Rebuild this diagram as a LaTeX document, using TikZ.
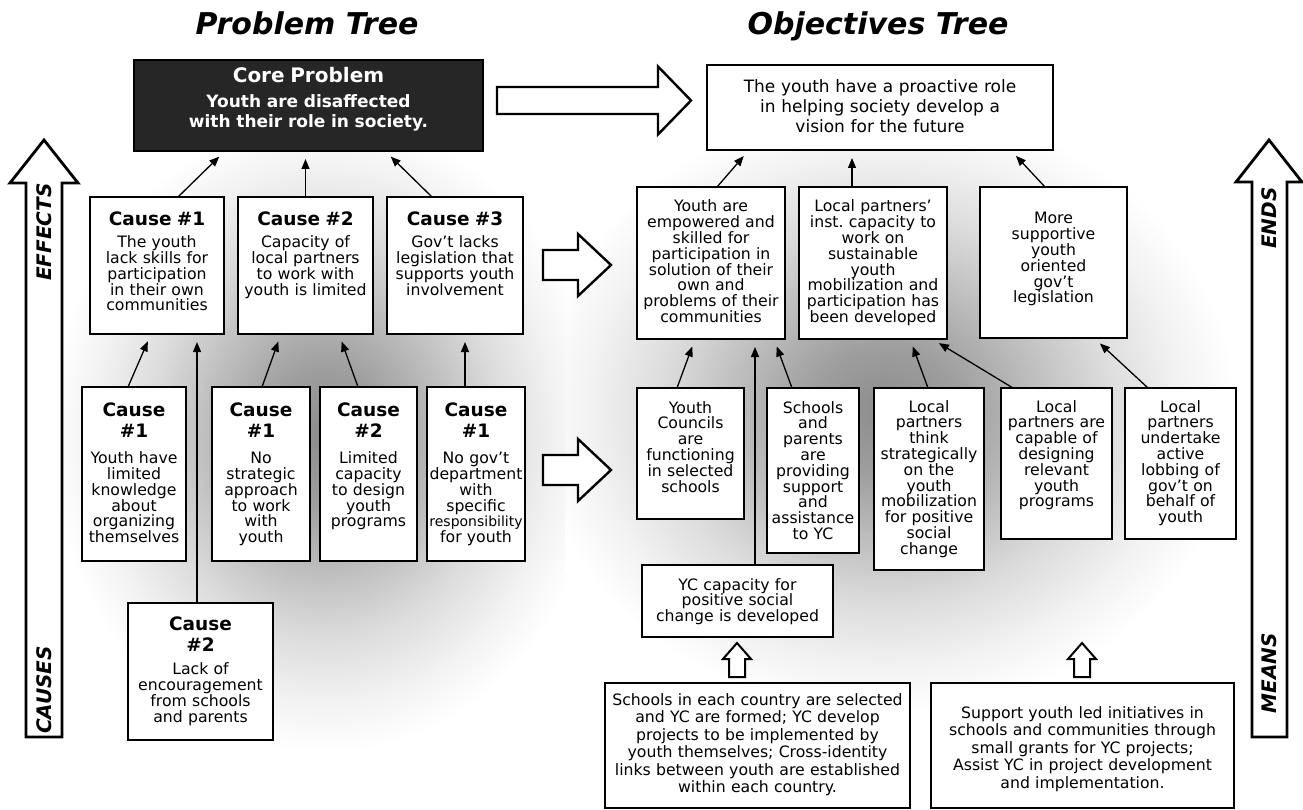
\documentclass[tikz,border=0pt]{standalone}
\usepackage{fontspec}
\setmainfont{DejaVu Sans}
\usetikzlibrary{arrows.meta}
\setlength{\lineskiplimit}{-20pt}
\newcommand\txt{\fontsize{15.7}{15.8}\selectfont}
\newcommand\hd{\bfseries\fontsize{18.5}{22}\selectfont}
\newcommand\ttl{\bfseries\itshape\fontsize{30}{36}\selectfont}
\pgfdeclareradialshading{glow}{\pgfpoint{0bp}{0bp}}{color(0bp)=(black!45); color(5bp)=(black!38); color(10bp)=(black!26); color(15bp)=(black!14); color(20bp)=(black!5); color(23.75bp)=(white); color(50bp)=(white)}

\begin{document}
\begin{tikzpicture}[x=1pt, y=-1pt,
  box/.style={draw, line width=2.7pt, fill=white, align=center, inner xsep=1pt, inner ysep=0pt, outer sep=0pt, font=\txt},
  hb/.style 2 args={text height=#1pt, text depth={#2-#1}},
  conn/.style={-{Triangle[length=10pt,width=8pt]}, line width=1.3pt, shorten >=8pt},
  hollow/.style={draw, line width=2.4pt, fill=white},
  side/.style={font=\bfseries\itshape\fontsize{20}{24}\selectfont, rotate=90}]
\useasboundingbox (0,0) rectangle (1303,810);
\fill[white] (0,0) rectangle (1303,810);

% gray glow behind both trees
\shade[shading=glow] (325,435) ellipse [x radius=290, y radius=335];
\begin{scope}
  \clip (565,0) rectangle (1303,810);
  \shade[shading=glow] (885,410) ellipse [x radius=370, y radius=320];
\end{scope}

% titles
\node[font=\ttl, anchor=base] (ptitle) at (307,35) {Problem Tree};
\node[font=\ttl, anchor=base] (otitle) at (878,35) {Objectives Tree};

% side arrows
\draw[hollow, line width=2.8pt] (26,737) -- (26,183) -- (10,183) -- (44,140) -- (78,183) -- (62,183) -- (62,737) -- cycle;
\draw[hollow, line width=2.8pt] (1252,737) -- (1252,182) -- (1236,182) -- (1269,140) -- (1302,182) -- (1287,182) -- (1287,737) -- cycle;
\node[side] (effects) at (44,232) {EFFECTS};
\node[side] (causes) at (44,690) {CAUSES};
\node[side] (ends) at (1269.5,218) {ENDS};
\node[side] (means) at (1269.5,673) {MEANS};

% problem tree
\node[box, fill=black!85, text=white, font=\bfseries\fontsize{17}{20}\selectfont, text width=347pt, hb={23}{91}, anchor=north] (core) at (308.5,60)
  {{\fontsize{20}{25}\selectfont Core Problem}\\[5pt] Youth are disaffected\\ with their role in society.};

\node[box, text width=132pt, hb={29}{137}, anchor=north] (c1) at (157,197)
  {{\hd Cause~\#1}\\[6pt] The youth\\ lack skills for\\ participation\\ in their own\\ communities};
\node[box, text width=133pt, hb={29}{137}, anchor=north] (c2) at (305.5,197)
  {{\hd Cause~\#2}\\[6pt] Capacity of\\ local~partners\\ to~work~with\\ youth~is~limited};
\node[box, text width=134pt, hb={29}{137}, anchor=north] (c3) at (455,197)
  {{\hd Cause~\#3}\\[6pt] Gov't lacks\\ legislation~that\\ supports~youth\\ involvement};

\node[box, text width=102pt, hb={29}{174}, anchor=north] (a) at (134,387)
  {{\hd Cause}\\[6pt] {\hd \#1}\\[10pt] Youth~have\\ limited\\ knowledge\\ about\\ organizing\\ themselves};
\node[box, text width=96pt, hb={29}{174}, anchor=north] (b) at (261,387)
  {{\hd Cause}\\[6pt] {\hd \#1}\\[10pt] No\\ strategic\\ approach\\ to~work\\ with\\ youth};
\node[box, text width=95pt, hb={29}{174}, anchor=north] (cc) at (368.5,387)
  {{\hd Cause}\\[6pt] {\hd \#2}\\[10pt] Limited\\ capacity\\ to~design\\ youth\\ programs};
\node[box, text width=96pt, hb={29}{174}, anchor=north] (d) at (476,387)
  {{\hd Cause}\\[6pt] {\hd \#1}\\[10pt] No~gov't\\ department\\ with\\ specific\\ {\fontsize{14}{15.8}\selectfont responsibility}\\ for~youth};
\node[box, text width=143pt, hb={27}{137}, anchor=north] (bot) at (200.5,603)
  {{\hd Cause}\\[6pt] {\hd \#2}\\[7pt] Lack of\\ encouragement\\ from~schools\\ and~parents};

\draw[conn] ([xshift=21pt]c1.north) -- ([xshift=-83.5pt]core.south);
\draw[conn] (c2.north) -- (c2.north |- core.south);
\draw[conn] ([xshift=-23pt]c3.north) -- ([xshift=76.5pt]core.south);
\draw[conn] ([xshift=-6pt]a.north) -- ([xshift=-6pt]c1.south);
\draw[conn] ([xshift=-3.5pt]bot.north) -- ([xshift=-3.5pt]bot.north |- c1.south);
\draw[conn] ([xshift=1pt]b.north) -- ([xshift=-24.5pt]c2.south);
\draw[conn] ([xshift=-10.5pt]cc.north) -- ([xshift=33.5pt]c2.south);
\draw[conn] ([xshift=-11pt]d.north) -- ([xshift=-11pt]d.north |- c3.south);

% block arrows from problems to objectives
\draw[hollow] (497,87) -- (658,87) -- (658,66.5) -- (691,100.5) -- (658,134.5) -- (658,114) -- (497,114) -- cycle;
\draw[hollow] (543,250) -- (578,250) -- (578,234) -- (611,265) -- (578,296) -- (578,280) -- (543,280) -- cycle;
\draw[hollow] (543,455) -- (578,455) -- (578,439) -- (611,470) -- (578,501) -- (578,485) -- (543,485) -- cycle;

% objectives tree
\node[box, font=\fontsize{17}{20}\selectfont, text width=344pt, hb={28}{85}, anchor=north] (otop) at (880,65)
  {The~youth~have~a~proactive~role\\ in~helping~society~develop~a\\ vision for the future};

\node[box, text width=146pt, hb={25}{152}, anchor=north] (oA) at (711,187)
  {Youth are\\ empowered~and\\ skilled~for\\ participation~in\\ solution~of~their\\ own~and\\ problems~of~their\\ communities};
\node[box, text width=146pt, hb={25}{152}, anchor=north] (oB) at (873,187)
  {Local~partners'\\ inst.~capacity~to\\ work~on\\ sustainable\\ youth\\ mobilization~and\\ participation~has\\ been~developed};
\node[box, text width=145pt, hb={37}{151}, anchor=north] (oC) at (1053.5,187)
  {More\\ supportive\\ youth\\ oriented\\ gov't\\ legislation};

\node[box, text width=105pt, hb={25}{131}, anchor=north] (yc) at (690.5,388)
  {Youth\\ Councils\\ are\\ functioning\\ in~selected\\ schools};
\node[box, text width=90pt, hb={25}{165}, anchor=north] (sch) at (813,388)
  {Schools\\ and\\ parents\\ are\\ providing\\ support\\ and\\ assistance\\ to~YC};
\node[box, text width=108pt, hb={24}{182}, anchor=north] (think) at (929,388)
  {Local\\ partners\\ think\\ strategically\\ on~the\\ youth\\ mobilization\\ for~positive\\ social\\ change};
\node[box, text width=109pt, hb={24}{151}, anchor=north] (cap) at (1056.5,388)
  {Local\\ partners~are\\ capable~of\\ designing\\ relevant\\ youth\\ programs};
\node[box, text width=109pt, hb={24}{151}, anchor=north] (lob) at (1180.5,388)
  {Local\\ partners\\ undertake\\ active\\ lobbing~of\\ gov't~on\\ behalf~of\\ youth};
\node[box, text width=189pt, hb={25}{72}, anchor=north] (ycap) at (737.5,565)
  {YC~capacity~for\\ positive~social\\ change~is~developed};

\draw[conn] ([xshift=6pt]oA.north) -- ([xshift=-131pt]otop.south);
\draw[conn] ([xshift=-21pt]oB.north) -- ([xshift=-21pt]oB.north |- otop.south);
\draw[conn] ([xshift=-8.5pt]oC.north) -- ([xshift=130.5pt]otop.south);
\draw[conn] ([xshift=-13.5pt]yc.north) -- ([xshift=-16pt]oA.south);
\draw[conn] ([xshift=17.5pt]ycap.north) -- ([xshift=17.5pt]ycap.north |- oA.south);
\draw[conn] ([xshift=-21pt]sch.north) -- ([xshift=63pt]oA.south);
\draw[conn] ([xshift=-1pt]think.north) -- ([xshift=37pt]oB.south);
\draw[conn] ([xshift=-43.5pt]cap.north) -- ([xshift=59pt]oB.south);
\draw[conn] ([xshift=-32.5pt]lob.north) -- ([xshift=40.5pt]oC.south);

% means at the bottom
\draw[hollow, line width=2pt] (729,677) -- (729,659) -- (723,659) -- (737,643) -- (751,659) -- (745,659) -- (745,677) -- cycle;
\draw[hollow, line width=2pt] (1074,677) -- (1074,659) -- (1068,659) -- (1082,643) -- (1096,659) -- (1090,659) -- (1090,677) -- cycle;
\node[box, font=\fontsize{15.7}{17.5}\selectfont, text width=303pt, hb={22}{125}, anchor=north] (m1) at (757.5,683)
  {Schools~in~each~country~are~selected\\ and~YC~are~formed;~YC~develop\\ projects~to~be~implemented~by\\ youth~themselves;~Cross-identity\\ links~between~youth~are~established\\ within~each~country.};
\node[box, font=\fontsize{15.7}{17.5}\selectfont, text width=301pt, hb={35}{125}, anchor=north] (m2) at (1082.5,683)
  {Support~youth~led~initiatives~in\\ schools~and~communities~through\\ small~grants~for~YC~projects;\\ Assist~YC~in~project~development\\ and~implementation.};
\end{tikzpicture}
\end{document}
